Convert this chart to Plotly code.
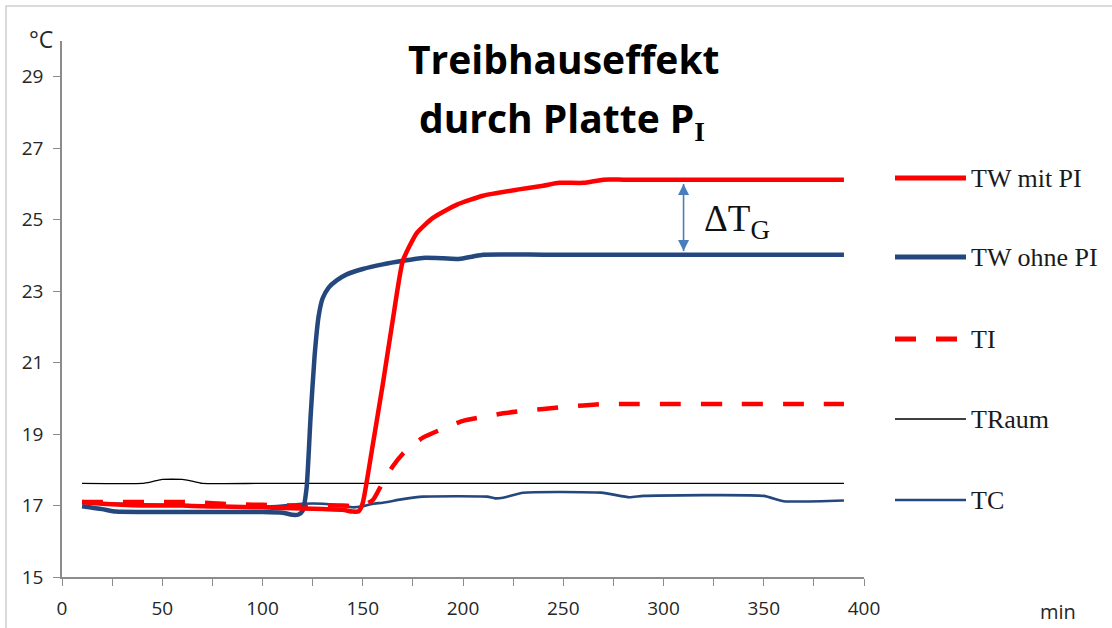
import plotly.graph_objects as go

# ---- data ----
t_mit = [10, 20, 30, 40, 50, 60, 70, 80, 90, 100, 110, 120, 130, 140, 145, 148, 150, 155, 160, 165, 170,
         177, 185, 197, 210, 227, 240, 248, 260, 270, 280, 300, 320, 340, 360, 390]
tw_mit = [17.1, 17.05, 17.02, 17.0, 17.0, 17.0, 16.98, 16.97, 16.96, 16.95, 16.93, 16.92, 16.9, 16.88, 16.83, 16.84,
          17.07, 18.7, 20.4, 22.2, 23.85, 24.63, 25.05, 25.42, 25.67, 25.84, 25.95, 26.03, 26.03, 26.12, 26.12,
          26.12, 26.12, 26.12, 26.12, 26.12]

t_ohne = [10, 20, 27, 40, 60, 80, 100, 110, 115, 118, 120, 122, 124, 126, 128, 130, 133, 137, 142, 150, 160,
          170, 180, 190, 198, 205, 210, 240, 270, 300, 330, 360, 390]
tw_ohne = [16.98, 16.9, 16.83, 16.82, 16.82, 16.82, 16.82, 16.8, 16.74, 16.75, 16.85, 17.5, 19.5, 21.2, 22.3, 22.8,
           23.1, 23.3, 23.47, 23.62, 23.75, 23.85, 23.93, 23.92, 23.9, 23.97, 24.02, 24.02, 24.02, 24.02, 24.02,
           24.02, 24.02]

t_ti = [10, 20, 30, 40, 50, 60, 70, 80, 90, 100, 110, 120, 130, 140, 145, 150, 155, 160, 165, 170, 175, 180,
        190, 200, 210, 220, 230, 240, 250, 260, 270, 280, 300, 330, 360, 390]
ti = [17.1, 17.1, 17.1, 17.1, 17.1, 17.1, 17.08, 17.05, 17.03, 17.02, 17.0, 17.0, 17.0, 17.0, 16.98, 17.0, 17.15,
      17.65, 18.1, 18.45, 18.7, 18.9, 19.15, 19.37, 19.48, 19.58, 19.65, 19.7, 19.76, 19.8, 19.84, 19.84, 19.84,
      19.84, 19.84, 19.84]

t_raum = [10, 40, 45, 50, 60, 65, 70, 100, 200, 300, 390]
traum = [17.62, 17.62, 17.67, 17.73, 17.73, 17.68, 17.62, 17.62, 17.62, 17.62, 17.62]

t_tc = [10, 30, 50, 70, 85, 100, 110, 120, 130, 140, 145, 150, 155, 160, 170, 180, 212, 216, 220, 230, 269,
        283, 290, 350, 360, 390]
tc = [17.07, 17.05, 17.02, 17.0, 16.97, 16.97, 17.0, 17.05, 17.05, 17.0, 16.95, 16.98, 17.05, 17.08, 17.18, 17.25,
      17.25, 17.2, 17.22, 17.36, 17.36, 17.23, 17.27, 17.27, 17.12, 17.14]

series_names = ["TW mit PI", "TW ohne PI", "TI", "TRaum", "TC"]
x_ticks = [0, 50, 100, 150, 200, 250, 300, 350, 400]
y_ticks = [15, 17, 19, 21, 23, 25, 27, 29]

RED = "#FF0000"
BLUE = "#24487E"
ARROW = "#4A7EBB"

styles = [
    dict(color=RED, width=4.5),
    dict(color=BLUE, width=4.5),
    dict(color=RED, width=4.5, dash="21px,20px"),
    dict(color="#000000", width=1.3),
    dict(color=BLUE, width=2.6),
]
xs = [t_mit, t_ohne, t_ti, t_raum, t_tc]
ys = [tw_mit, tw_ohne, ti, traum, tc]

fig = go.Figure()
for i in [3, 4, 2, 1, 0]:
    fig.add_trace(go.Scatter(x=xs[i], y=ys[i], mode="lines", name=series_names[i],
                             line=dict(shape="spline", smoothing=0.5, **styles[i]),
                             showlegend=False, hoverinfo="x+y+name"))

# Delta T_G double arrow between the plateaus
x_arrow = 310
top_tip = tw_mit[-1] - 0.12
bot_tip = tw_ohne[-1] + 0.1
fig.add_trace(go.Scatter(x=[x_arrow, x_arrow], y=[top_tip, bot_tip], mode="lines+markers",
                         line=dict(color=ARROW, width=1.6),
                         marker=dict(symbol=["arrow-up", "arrow-down"], size=11, color=ARROW,
                                     line=dict(width=0)),
                         showlegend=False, hoverinfo="skip"))

# plot area geometry (pixels)
L, R, T, B = 62, 864, 41, 577
W, H = 1112, 628

def px2x(px):
    return (px - L) / (R - L)

def py2y(py):
    return (B - py) / (B - T)

shapes = []
annotations = []

shapes.append(dict(type="rect", xref="paper", yref="paper", x0=px2x(6), x1=px2x(1140),
                   y0=py2y(660), y1=py2y(6), line=dict(color="#D0D0D0", width=1.5), layer="below"))

leg_y = [178, 257, 339, 419, 500]
for i, name in enumerate(series_names):
    st = styles[i]
    shapes.append(dict(type="line", xref="paper", yref="paper", x0=px2x(895), x1=px2x(966),
                       y0=py2y(leg_y[i]), y1=py2y(leg_y[i]),
                       line=dict(color=st["color"], width=st["width"] + (0.5 if st["width"] > 4 else 0),
                                 dash=st.get("dash", "solid"))))
    annotations.append(dict(xref="paper", yref="paper", x=px2x(969), y=py2y(leg_y[i]), text=name,
                            showarrow=False, xanchor="left", yanchor="middle",
                            font=dict(family="Liberation Serif", size=26, color="#1a1a1a")))

annotations.append(dict(xref="paper", yref="paper", x=px2x(564), y=py2y(58), text="<b>Treibhauseffekt</b>",
                        showarrow=False, xanchor="center", yanchor="middle",
                        font=dict(family="Open Sans", size=39, color="#000000")))
annotations.append(dict(xref="paper", yref="paper", x=px2x(562), y=py2y(119),
                        text="<b>durch Platte P</b><sub><b><span style=\"font-family:Liberation Serif\">I</span></b></sub>",
                        showarrow=False, xanchor="center", yanchor="middle",
                        font=dict(family="Open Sans", size=39, color="#000000")))

annotations.append(dict(xref="paper", yref="paper", x=px2x(41), y=py2y(39), text="°C", showarrow=False,
                        xanchor="center", yanchor="middle", font=dict(family="Open Sans", size=23, color="#262626")))
annotations.append(dict(xref="paper", yref="paper", x=px2x(1058), y=py2y(611), text="min", showarrow=False,
                        xanchor="center", yanchor="middle", font=dict(family="Open Sans", size=20, color="#262626")))

annotations.append(dict(x=319, y=(tw_mit[-1] + tw_ohne[-1]) / 2 - 0.12, xref="x", yref="y",
                        text="ΔT<sub><span style=\"font-size:27px\">G</span></sub>", showarrow=False,
                        xanchor="left", yanchor="middle",
                        font=dict(family="Liberation Serif", size=37, color="#111111")))

fig.update_layout(
    width=W, height=H,
    margin=dict(l=L, r=W - R, t=T, b=H - B, autoexpand=False),
    paper_bgcolor="white", plot_bgcolor="white",
    shapes=shapes, annotations=annotations,
    showlegend=False,
    xaxis=dict(range=[0, 400], tickvals=x_ticks, ticktext=[str(v) for v in x_ticks],
               automargin=False,
               showgrid=False, zeroline=False, showline=True, linecolor="#8C8C8C", linewidth=1.5,
               ticks="outside", ticklen=7, tickcolor="#8C8C8C", tickwidth=1.3,
               minor=dict(dtick=25, tick0=0, ticks="outside", ticklen=7, tickcolor="#8C8C8C", tickwidth=1.3,
                          showgrid=False),
               ticklabelstandoff=6,
               tickfont=dict(family="Open Sans", size=19, color="#262626")),
    yaxis=dict(range=[15, 30], tickvals=y_ticks, ticktext=[str(v) for v in y_ticks],
               automargin=False,
               showgrid=False, zeroline=False, showline=True, linecolor="#8C8C8C", linewidth=1.5,
               ticks="outside", ticklen=7, tickcolor="#8C8C8C", tickwidth=1.3,
               ticklabelstandoff=6,
               tickfont=dict(family="Open Sans", size=19, color="#262626")),
)

fig.write_html("out.html", config={"displayModeBar": False},
               post_script="document.body.style.margin='0px';")
